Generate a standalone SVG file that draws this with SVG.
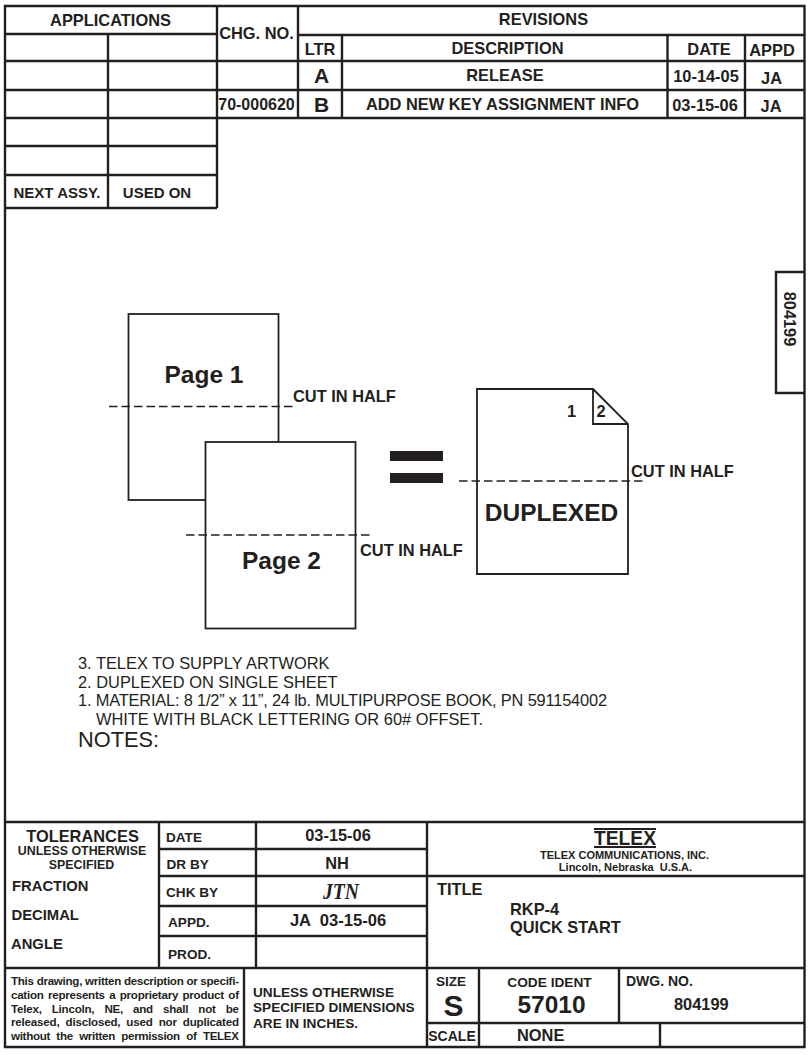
<svg xmlns="http://www.w3.org/2000/svg" width="808" height="1055" viewBox="0 0 808 1055">
<style>
text{font-family:"Liberation Sans",Arial,sans-serif;font-weight:bold;fill:#231f20;font-size:16.4px}
.c{text-anchor:middle}
.r{font-weight:normal}
.g{fill:none;stroke:#231f20;stroke-width:2.4}
.t{fill:none;stroke:#231f20;stroke-width:1.8}
.d{fill:none;stroke:#231f20;stroke-width:1.6;stroke-dasharray:8.500 4}
.p{fill:#fff;stroke:#231f20;stroke-width:1.8}
.j{font-size:11.6px}
.l{font-size:13.600px}
.m{font-size:14.800px}
.h{font-size:21px}
.b{font-size:24.500px}
</style>
<rect width="808" height="1055" fill="#fff"/>
<g id="frame">
<path class="g" d="M5 6H804.500V1047H5Z"/>
<path class="g" d="M804.500 272H776V393H804.500"/>
<text class="c" transform="translate(784 319) rotate(90)">804199</text>
</g>
<g id="revision-table">
<path class="g" d="M5 34H217M108 34V208M5 61H217M5 90H217M5 118H217M5 146H217M5 175H217M5 208H217M217 6V208M298 6V118M217 61H804.500M217 90H804.500M217 118H804.500M298 35H804.500M342 35V118M667.500 35V118M745 35V118"/>
<text class="c" x="110.500" y="26">APPLICATIONS</text>
<text class="c" x="256.500" y="39">CHG. NO.</text>
<text class="c" x="543.500" y="25">REVISIONS</text>
<text class="c" x="320" y="55">LTR</text>
<text class="c" x="507.500" y="54">DESCRIPTION</text>
<text class="c" x="709" y="55">DATE</text>
<text class="c" x="772" y="56">APPD</text>
<text class="c h" x="321.500" y="83">A</text>
<text class="c" x="505" y="81">RELEASE</text>
<text class="c" x="706" y="82">10-14-05</text>
<text class="c" x="771.500" y="84">JA</text>
<text class="c" x="256.500" y="110" style="font-size:16px">70-000620</text>
<text class="c h" x="321.500" y="112">B</text>
<text class="c" x="502.500" y="110">ADD NEW KEY ASSIGNMENT INFO</text>
<text class="c" x="705" y="111">03-15-06</text>
<text class="c" x="771" y="112">JA</text>
<text class="c" x="57" y="198" style="font-size:15px">NEXT ASSY.</text>
<text class="c" x="157" y="198" style="font-size:15px">USED ON</text>
</g>
<g id="page-1">
<rect class="p" x="128.500" y="314" width="150" height="186"/>
<text class="c b" x="204" y="383">Page 1</text>
</g>
<g id="page-2">
<rect class="p" x="205.500" y="442" width="150" height="186.500"/>
<text class="c b" x="281.500" y="569">Page 2</text>
</g>
<g id="duplexed">
<path class="p" d="M477 389H593L628 424V574H477Z"/>
<path class="t" d="M593 389V424H628"/>
<text class="c" x="571.500" y="417">1</text>
<text class="c" x="601" y="417">2</text>
<text class="c b" x="551.500" y="521">DUPLEXED</text>
</g>
<g id="equals">
<rect x="390" y="451" width="53" height="10" fill="#231f20"/>
<rect x="390" y="473" width="53" height="10" fill="#231f20"/>
</g>
<g id="connectors">
<path class="d" d="M109 406.500H293"/>
<path class="d" d="M186 535H370"/>
<path class="d" d="M459 481H643"/>
</g>
<g id="cut-labels">
<text x="293" y="402">CUT IN HALF</text>
<text x="360" y="556">CUT IN HALF</text>
<text x="631" y="477">CUT IN HALF</text>
</g>
<g id="notes">
<text class="r" x="78" y="669">3. TELEX TO SUPPLY ARTWORK</text>
<text class="r" x="78" y="687.500">2. DUPLEXED ON SINGLE SHEET</text>
<text class="r" x="78" y="706" textLength="529">1. MATERIAL: 8 1/2” x 11”, 24 lb. MULTIPURPOSE BOOK, PN 591154002</text>
<text class="r" x="96" y="725">WHITE WITH BLACK LETTERING OR 60# OFFSET.</text>
<text class="r" x="78" y="747" style="font-size:21.800px">NOTES:</text>
</g>
<g id="title-block">
<path class="g" d="M5 822H804.500M5 968H804.500M159 822V968M256 822V968M427 822V1047M159 849H427M159 876H804.500M159 906H427M159 936H427M244 968V1047M479 968V1047M619 968V1023M427 1023H804.500M660 1023V1047"/>
<text class="c" x="82.500" y="842">TOLERANCES</text>
<text class="c" x="82" y="855" style="font-size:12.400px">UNLESS OTHERWISE</text>
<text class="c" x="81.500" y="869" style="font-size:12.400px">SPECIFIED</text>
<text class="m" x="12" y="891">FRACTION</text>
<text class="m" x="11.500" y="920">DECIMAL</text>
<text class="m" x="11" y="949">ANGLE</text>
<text class="l" x="166" y="842">DATE</text>
<text class="l" x="166.500" y="869">DR BY</text>
<text class="l" x="166" y="897">CHK BY</text>
<text class="l" x="168" y="927">APPD.</text>
<text class="l" x="168" y="959">PROD.</text>
<text class="c" x="338" y="841">03-15-06</text>
<text class="c" x="337" y="869">NH</text>
<text x="323" y="899" textLength="36" lengthAdjust="spacingAndGlyphs" style="font-family:'Liberation Serif',serif;font-style:italic;font-weight:bold;font-size:23px">JTN</text>
<text class="c" x="338" y="926" style="font-size:16.600px" xml:space="preserve">JA  03-15-06</text>
<text x="11" y="985" class="j" textLength="228">This drawing, written description or specifi-</text>
<text x="11" y="998.500" class="j" word-spacing="1.500" textLength="228">cation represents a proprietary product of</text>
<text x="11" y="1012.500" class="j" word-spacing="7" textLength="228">Telex, Lincoln, NE, and shall not be</text>
<text x="11" y="1026" class="j" word-spacing="3" textLength="228">released, disclosed, used nor duplicated</text>
<text x="11" y="1040" class="j" word-spacing="3.500" textLength="228">without the written permission of TELEX</text>
<text class="l" x="253" y="997">UNLESS OTHERWISE</text>
<text class="l" x="253" y="1012">SPECIFIED DIMENSIONS</text>
<text class="l" x="253" y="1027.500">ARE IN INCHES.</text>
<text x="594" y="845" textLength="62" lengthAdjust="spacingAndGlyphs" style="font-size:21px">TELEX</text>
<path d="M594 829H656M594 847H656" stroke="#231f20" stroke-width="2" fill="none"/>
<text class="c" x="624.500" y="859" style="font-size:11px">TELEX COMMUNICATIONS, INC.</text>
<text class="c" x="625.500" y="871" style="font-size:11px" xml:space="preserve">Lincoln, Nebraska  U.S.A.</text>
<text x="437" y="895">TITLE</text>
<text x="510" y="914.500">RKP-4</text>
<text x="510" y="932.500">QUICK START</text>
<text class="c l" x="451" y="986">SIZE</text>
<text class="c" x="453.500" y="1016" style="font-size:30px">S</text>
<text class="c" x="549.500" y="987" style="font-size:13.700px">CODE IDENT</text>
<text class="c b" x="551.500" y="1013">57010</text>
<text x="626" y="986" style="font-size:14px">DWG. NO.</text>
<text x="674" y="1010">804199</text>
<text class="c" x="452" y="1041" style="font-size:14px">SCALE</text>
<text x="517" y="1041">NONE</text>
</g>
</svg>
